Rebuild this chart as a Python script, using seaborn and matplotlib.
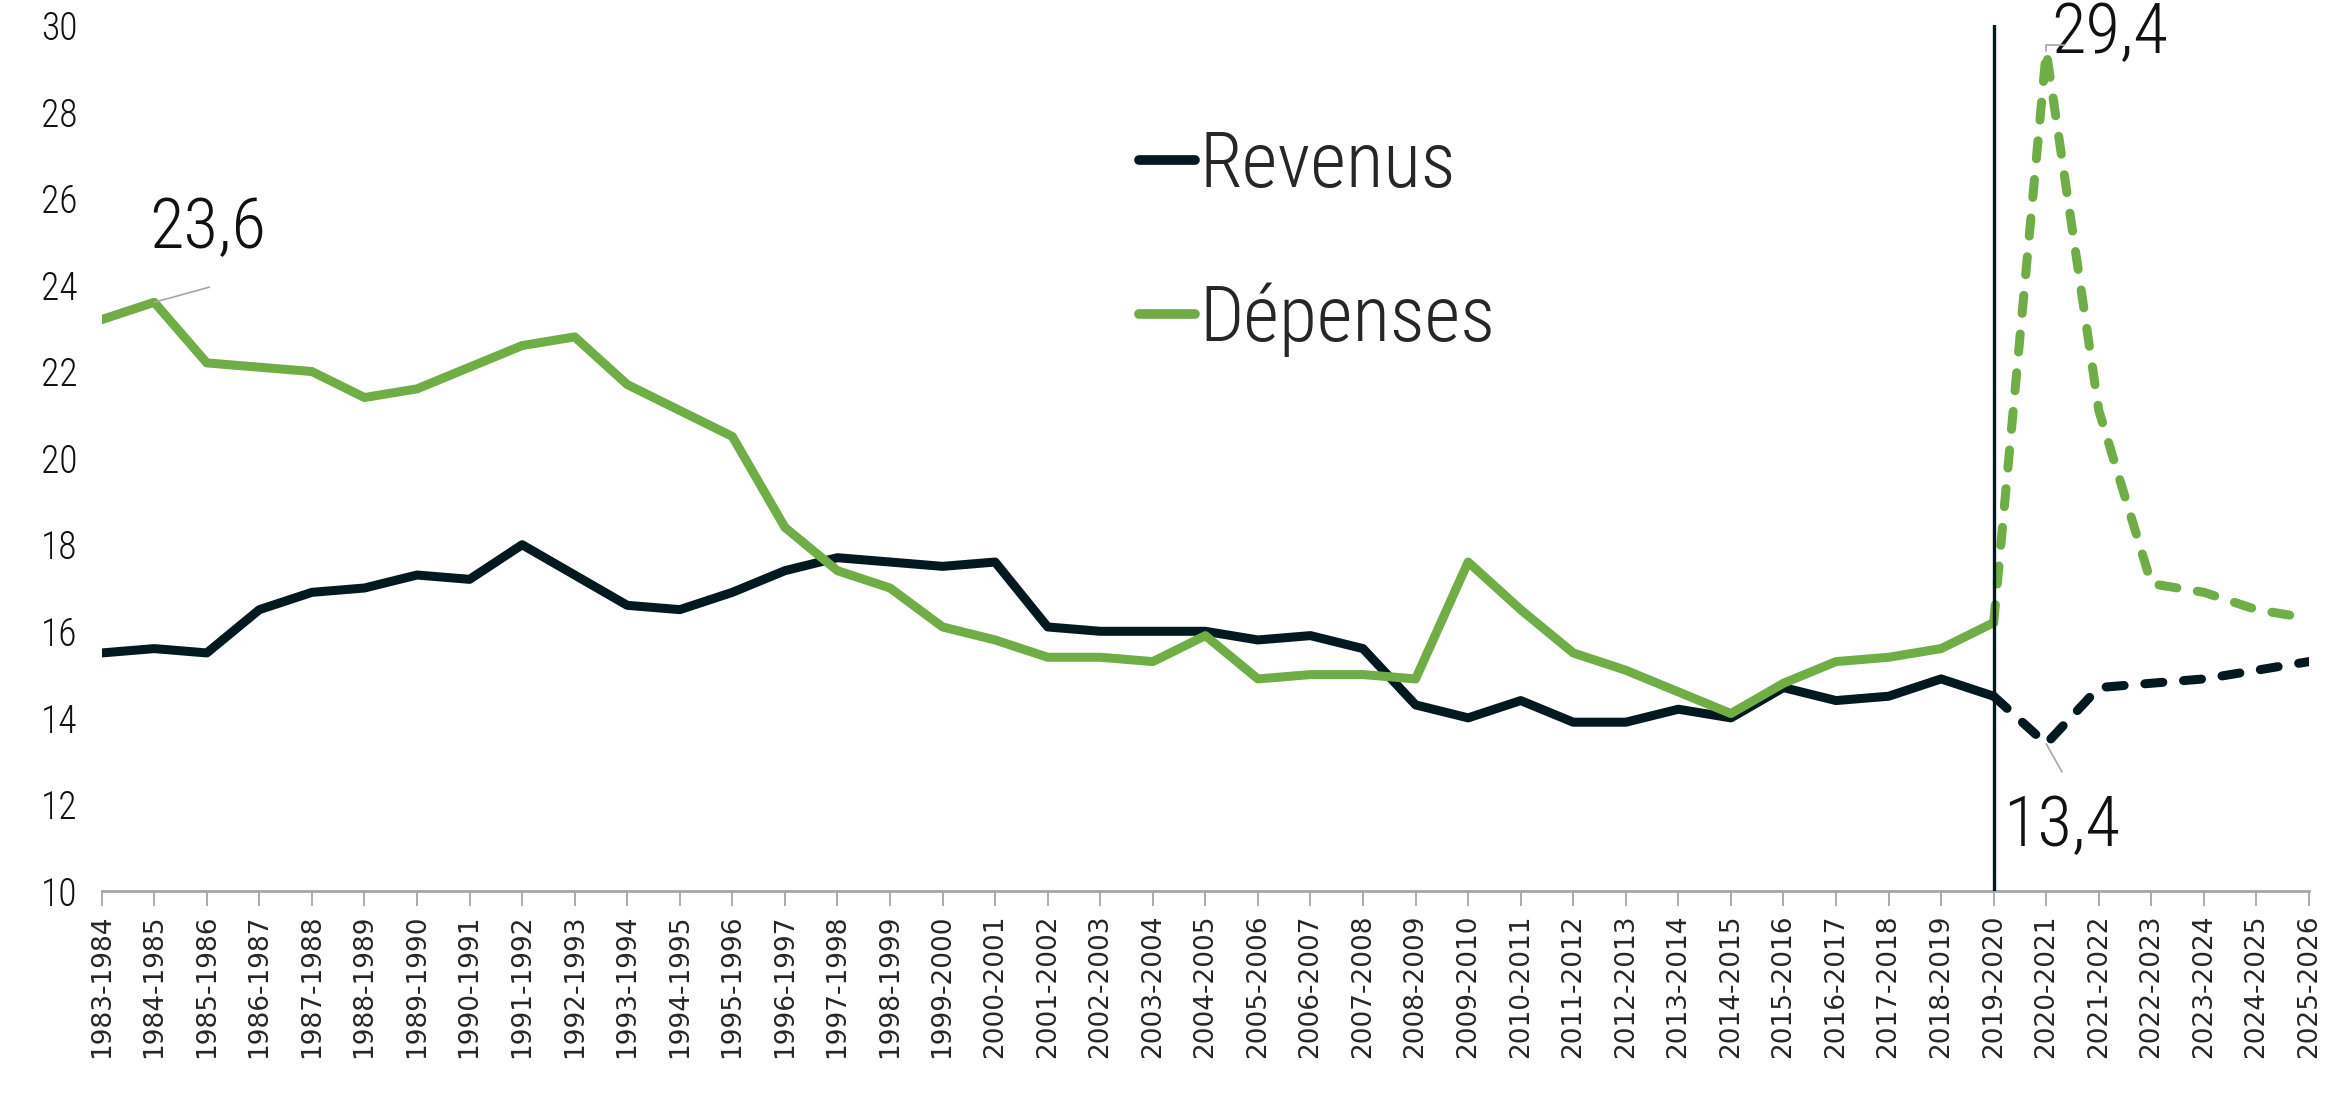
import numpy as np
import pandas as pd
import matplotlib
matplotlib.use("Agg")
import matplotlib.pyplot as plt
from matplotlib import font_manager as fm
import seaborn as sns

annees = [f"{a}-{a + 1}" for a in range(1983, 2026)]

revenus = [15.5, 15.6, 15.5, 16.5, 16.9, 17.0, 17.3, 17.2, 18.0, 17.3,
           16.6, 16.5, 16.9, 17.4, 17.7, 17.6, 17.5, 17.6, 16.1, 16.0,
           16.0, 16.0, 15.8, 15.9, 15.6, 14.3, 14.0, 14.4, 13.9, 13.9,
           14.2, 14.0, 14.7, 14.4, 14.5, 14.9, 14.5, 13.4, 14.7, 14.8,
           14.9, 15.1, 15.3]

depenses = [23.2, 23.6, 22.2, 22.1, 22.0, 21.4, 21.6, 22.1, 22.6, 22.8,
            21.7, 21.1, 20.5, 18.4, 17.4, 17.0, 16.1, 15.8, 15.4, 15.4,
            15.3, 15.9, 14.9, 15.0, 15.0, 14.9, 17.6, 16.5, 15.5, 15.1,
            14.6, 14.1, 14.8, 15.3, 15.4, 15.6, 16.2, 29.4, 21.1, 17.1,
            16.9, 16.5, 16.3]

derniere_reelle = "2019-2020"

coul_rev = "#041820"
coul_dep = "#70AD47"
gris = "#a6a6a6"


def police_etroite():
    # cherche une police condensée / étroite parmi celles installées
    fichiers = fm.fontManager.ttflist
    prefs = [("Roboto Condensed", "light"), ("Roboto Condensed", None),
             ("Open Sans Condensed", "light"), ("Open Sans Condensed", None),
             ("Liberation Sans Narrow", None), ("Noto Sans", "cond"),
             ("Open Sans", "cond"), ("DejaVu Sans", "cond")]
    for nom, opt in prefs:
        for f in fichiers:
            if f.name != nom:
                continue
            if opt == "light" and f.weight not in (300, "light"):
                continue
            if opt == "cond" and f.stretch not in ("condensed", "semi-condensed",
                                                   "extra-condensed", 75, 87.5, 62.5):
                continue
            if f.style != "normal":
                continue
            if opt != "light" and f.weight not in (400, "normal", "regular", 300, "light"):
                continue
            return fm.FontProperties(fname=f.fname)
    return fm.FontProperties(family="DejaVu Sans", stretch="condensed")


fp = police_etroite()

df = pd.DataFrame({"annee": annees, "Revenus": revenus, "Dépenses": depenses})
i0 = annees.index(derniere_reelle)
reel = df.iloc[:i0 + 1]
prevu = df.iloc[i0:]

sns.set_style("white")

fig, ax = plt.subplots(figsize=(23.43, 10.96), dpi=100)
fig.subplots_adjust(left=0.0434, right=0.9855, top=0.977, bottom=0.187)

lw = 6.5
tirets = (0, (2.0, 2.3))
sns.lineplot(data=reel, x="annee", y="Revenus", color=coul_rev, lw=lw,
             sort=False, ax=ax, label="Revenus")
sns.lineplot(data=reel, x="annee", y="Dépenses", color=coul_dep, lw=lw,
             sort=False, ax=ax, label="Dépenses")
sns.lineplot(data=prevu, x="annee", y="Revenus", color=coul_rev, lw=lw,
             sort=False, ax=ax, linestyle=tirets, dash_capstyle="round",
             label="_nolegend_")
sns.lineplot(data=prevu, x="annee", y="Dépenses", color=coul_dep, lw=lw,
             sort=False, ax=ax, linestyle=tirets, dash_capstyle="round",
             label="_nolegend_")

ax.axvline(i0, color=coul_rev, lw=2.4, zorder=5)

ax.set_xlim(0, len(annees) - 1)
ax.set_ylim(10, 30)
ax.set_yticks(range(10, 31, 2))
ax.set_xlabel("")
ax.set_ylabel("")

for s in ["top", "right", "left"]:
    ax.spines[s].set_visible(False)
ax.spines["bottom"].set_color(gris)
ax.spines["bottom"].set_linewidth(2)

ax.tick_params(axis="x", bottom=True, length=11, width=1.3, color=gris,
               labelsize=19, rotation=90, pad=6)
ax.tick_params(axis="y", left=False, pad=14)
for t in ax.get_yticklabels():
    t.set_fontproperties(fp)
    t.set_fontsize(27)
    t.set_color("#111111")

# étiquettes des valeurs marquantes
ax.text(0.9, 25.3, "23,6", fontproperties=fp, fontsize=51, color="#111111",
        va="center", ha="left")
ax.annotate("", xy=(1, 23.6), xytext=(2.05, 23.95),
            arrowprops=dict(arrowstyle="-", color=gris, lw=1.2,
                            shrinkA=0, shrinkB=0))

ax.text(37.1, 29.8, "29,4", fontproperties=fp, fontsize=51, color="#111111",
        va="center", ha="left")
ax.annotate("", xy=(37, 29.4), xytext=(37.35, 29.55),
            arrowprops=dict(arrowstyle="-", color=gris, lw=1.2,
                            shrinkA=0, shrinkB=0,
                            connectionstyle="angle,angleA=0,angleB=90,rad=0"))

ax.text(36.18, 11.5, "13,4", fontproperties=fp, fontsize=51, color="#111111",
        va="center", ha="left")
ax.annotate("", xy=(37, 13.4), xytext=(37.3, 12.75),
            arrowprops=dict(arrowstyle="-", color=gris, lw=1.2,
                            shrinkA=0, shrinkB=0))

fp_leg = fp.copy()
fp_leg.set_size(56)
leg = ax.legend(loc="upper left", bbox_to_anchor=(0.47, 0.881), frameon=False,
                prop=fp_leg, handlelength=0.72, handletextpad=0.06,
                labelspacing=1.03, borderaxespad=0, borderpad=0)
for l in leg.get_lines():
    l.set_linewidth(7)
    l.set_solid_capstyle("round")

fig.savefig("out.png", dpi=100)
